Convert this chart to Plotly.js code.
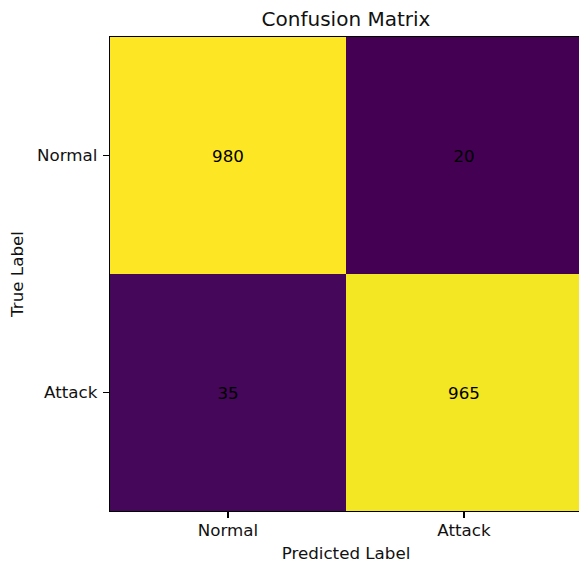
<!DOCTYPE html>
<html>
<head>
<meta charset="utf-8">
<script src="https://cdn.plot.ly/plotly-3.0.1.min.js"></script>
<style>html,body{margin:0;padding:0;overflow:hidden;background:#fff;}</style>
</head>
<body>
<div id="chart" style="width:600px;height:565px;"></div>
<script>
const predictedLabels = ["Normal", "Attack"];
const trueLabels = ["Normal", "Attack"];
const rowNormal = [980, 20];
const rowAttack = [35, 965];
const zValues = [rowNormal, rowAttack];

const FS = 16.7;

const trace = {
  type: "heatmap",
  x: predictedLabels,
  y: trueLabels,
  z: zValues,
  colorscale: "Viridis",
  zmin: 20,
  zmax: 980,
  showscale: false,
  texttemplate: "%{z}",
  textfont: {family: "DejaVu Sans", size: FS, color: "black"},
  hoverinfo: "skip",
  xgap: 0, ygap: 0
};

const axisCommon = {
  showline: true, mirror: true, linecolor: "black", linewidth: 1.3,
  ticks: "outside", ticklen: 6, tickwidth: 1.3, tickcolor: "black",
  showgrid: false, zeroline: false,
  tickfont: {family: "DejaVu Sans", size: FS, color: "#111"}
};

const layout = {
  width: 600, height: 565,
  margin: {l: 110, r: 18, t: 37, b: 54, pad: 0},
  paper_bgcolor: "white", plot_bgcolor: "white",
  font: {family: "DejaVu Sans", color: "black"},
  title: {text: "Confusion Matrix", font: {family: "DejaVu Sans", size: 20, color: "#111"},
          x: 0.5, xref: "paper", y: 1 - 19/565, yanchor: "middle"},
  xaxis: Object.assign({}, axisCommon, {
    ticklabelstandoff: -2,
    title: {text: "Predicted Label", font: {family: "DejaVu Sans", size: FS, color: "#111"}, standoff: 8}
  }),
  yaxis: Object.assign({}, axisCommon, {
    autorange: "reversed",
    ticklabelstandoff: 2,
    title: {text: "True Label", font: {family: "DejaVu Sans", size: FS, color: "#111"}, standoff: 9}
  })
};

Plotly.newPlot("chart", [trace], layout, {displayModeBar: false, staticPlot: true});
</script>
</body>
</html>
